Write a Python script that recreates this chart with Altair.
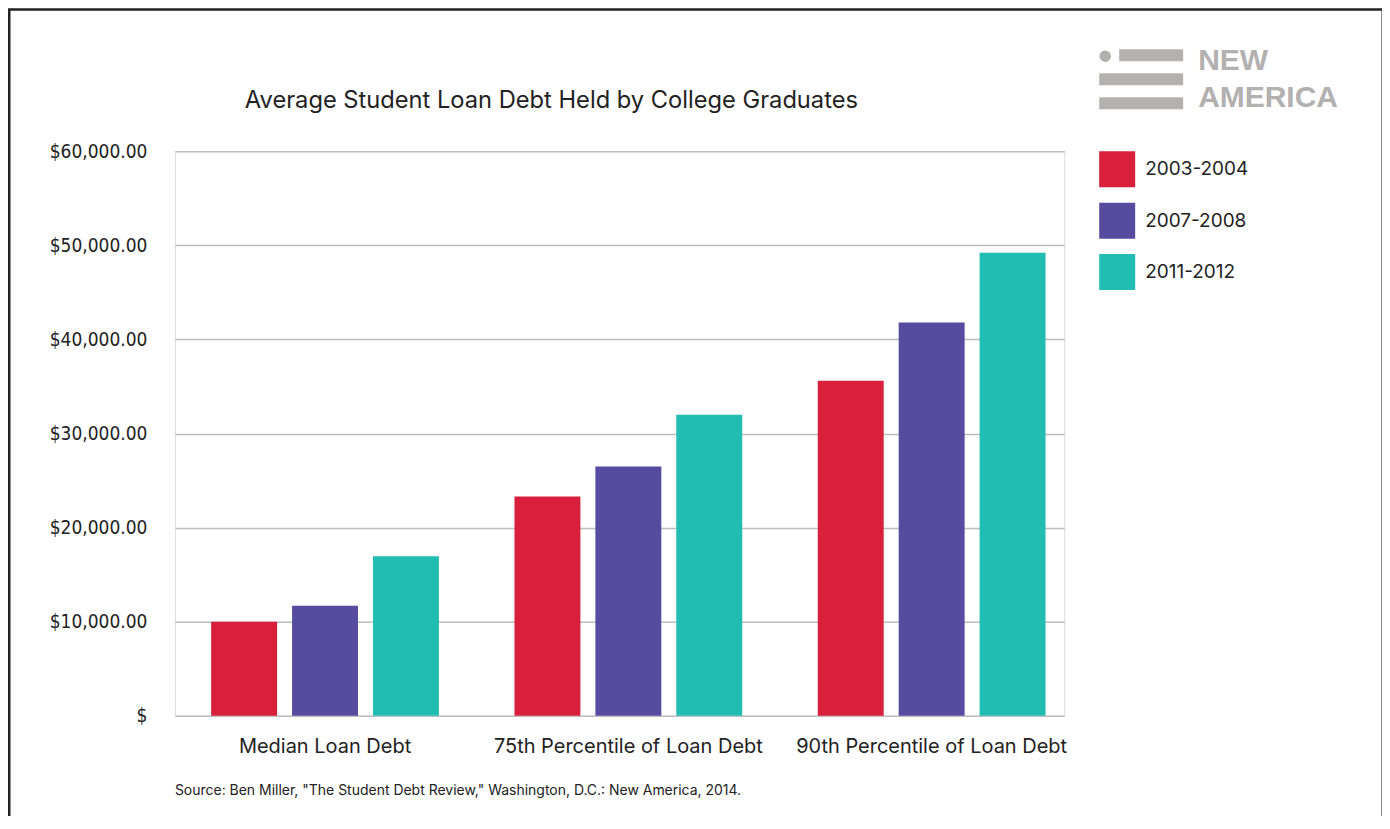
import altair as alt
import pandas as pd

categories = ["Median Loan Debt", "75th Percentile of Loan Debt", "90th Percentile of Loan Debt"]
periods = ["2003-2004", "2007-2008", "2011-2012"]
values_2003 = [10000, 23300, 35600]
values_2007 = [11700, 26500, 41800]
values_2011 = [16950, 32000, 49200]
colors = ["#D81F3C", "#574B9F", "#21BCB2"]
y_ticks = [0, 10000, 20000, 30000, 40000, 50000, 60000]

title_text = "Average Student Loan Debt Held by College Graduates"
source_text = 'Source: Ben Miller, "The Student Debt Review," Washington, D.C.: New America, 2014.'

rows = []
for i, c in enumerate(categories):
    for p, vals in zip(periods, [values_2003, values_2007, values_2011]):
        rows.append({"category": c, "period": p, "value": vals[i]})
df = pd.DataFrame(rows)

COND = "Liberation Sans Narrow, DejaVu Sans Condensed, Roboto, sans-serif"
SANS = "Inter, Roboto, sans-serif"
TXT = "#222222"
GREY = "#b3b0b0"

bars = alt.Chart(df).mark_bar().encode(
    x=alt.X("category:N", sort=categories,
            scale=alt.Scale(paddingInner=0.249, paddingOuter=0.0906, align=0.66),
            axis=alt.Axis(title=None, labelAngle=0, domain=False, ticks=False,
                          labelFont=SANS, labelFontSize=20, labelColor=TXT,
                          labelPadding=21, labelLimit=0)),
    xOffset=alt.XOffset("period:N", sort=periods,
                        scale=alt.Scale(paddingInner=0.185, paddingOuter=0)),
    y=alt.Y("value:Q", scale=alt.Scale(domain=[0, 60000]),
            axis=alt.Axis(title=None, values=y_ticks, domain=False, ticks=False,
                          grid=True, gridColor="#bdbdbd", gridWidth=1.5,
                          labelFont=COND, labelFontSize=19, labelColor=TXT,
                          labelPadding=28,
                          labelExpr="datum.value == 0 ? '$' : '$' + format(datum.value, ',.2f')")),
    color=alt.Color("period:N", sort=periods,
                    scale=alt.Scale(domain=periods, range=colors),
                    legend=alt.Legend(title=None, orient="none", legendX=925, legendY=0,
                                      symbolType="square", symbolSize=1296,
                                      symbolStrokeWidth=0, symbolOpacity=1,
                                      labelFont=SANS, labelFontSize=19, labelColor=TXT,
                                      labelOffset=10, rowPadding=15.5, padding=0)),
)

one = pd.DataFrame({"k": [0]})

title = alt.Chart(one).mark_text(align="left", baseline="middle", font=SANS,
                                 fontSize=23.7, color=TXT).encode(
    x=alt.value(70), y=alt.value(-50), text=alt.value(title_text))

source = alt.Chart(one).mark_text(align="left", baseline="middle", font=SANS,
                                  fontSize=14, color=TXT).encode(
    x=alt.value(0), y=alt.value(640), text=alt.value(source_text))

frame = alt.Chart(one).mark_rect(fillOpacity=0, stroke=TXT, strokeWidth=2.5).encode(
    x=alt.value(-165.75), x2=alt.value(1208.75), y=alt.value(-141.75), y2=alt.value(720))

logo_dot = alt.Chart(one).mark_circle(size=135, color=GREY, opacity=1).encode(
    x=alt.value(931), y=alt.value(-95))
logo_bar1 = alt.Chart(one).mark_rect(color=GREY).encode(
    x=alt.value(945), x2=alt.value(1009), y=alt.value(-102), y2=alt.value(-90))
logo_bar2 = alt.Chart(one).mark_rect(color=GREY).encode(
    x=alt.value(925), x2=alt.value(1009), y=alt.value(-78), y2=alt.value(-66))
logo_bar3 = alt.Chart(one).mark_rect(color=GREY).encode(
    x=alt.value(925), x2=alt.value(1009), y=alt.value(-54), y2=alt.value(-42))
logo_new = alt.Chart(one).mark_text(align="left", baseline="alphabetic",
                                    font="Liberation Sans", fontWeight="bold",
                                    fontSize=30, color=GREY).encode(
    x=alt.value(1024), y=alt.value(-81), text=alt.value("NEW"))
logo_am = alt.Chart(one).mark_text(align="left", baseline="alphabetic",
                                   font="Liberation Sans", fontWeight="bold",
                                   fontSize=30, color=GREY).encode(
    x=alt.value(1024), y=alt.value(-44), text=alt.value("AMERICA"))

chart = alt.layer(
    bars, title, source, frame, logo_dot, logo_bar1, logo_bar2, logo_bar3, logo_new, logo_am
).properties(
    width=890, height=565,
    autosize=alt.AutoSizeParams(type="none"),
    padding={"left": 167, "top": 143, "right": 318, "bottom": 100},
).configure_view(stroke="#cccccc", strokeWidth=2).configure(background="white")

chart.save("out.html", embed_options={"renderer": "svg", "actions": False})
